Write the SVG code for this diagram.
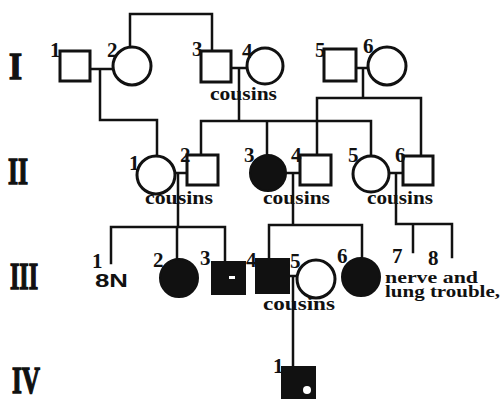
<svg xmlns="http://www.w3.org/2000/svg" width="502" height="399" viewBox="0 0 502 399">
<style>
.ln{fill:none;stroke:#111;stroke-width:2.5;stroke-linecap:square;stroke-linejoin:miter}
.op{fill:#fff;stroke:#111;stroke-width:3}
.af{fill:#111;stroke:#111;stroke-width:2}
.num{font-family:"Liberation Serif",serif;font-weight:bold;font-size:21px;fill:#111}
.rom{font-family:"Liberation Serif",serif;font-weight:bold;font-size:38px;fill:#111;stroke:#111;stroke-width:1.5}
.note{font-family:"Liberation Serif",serif;font-weight:bold;font-size:18px;fill:#111}
.note2{font-family:"Liberation Serif",serif;font-weight:bold;font-size:16px;fill:#111}
.sans{font-family:"Liberation Sans",sans-serif;font-weight:bold;font-size:18px;fill:#111}
</style>
<rect width="502" height="399" fill="#fff"/>
<g id="generation-labels">
<text class="rom" x="9" y="79" textLength="13" lengthAdjust="spacingAndGlyphs">I</text>
<text class="rom" x="8" y="184" textLength="20" lengthAdjust="spacingAndGlyphs">II</text>
<text class="rom" x="10" y="289" textLength="28" lengthAdjust="spacingAndGlyphs">III</text>
<text class="rom" x="12" y="393" textLength="28" lengthAdjust="spacingAndGlyphs">IV</text>
</g>
<g id="connectors">
<path class="ln" d="M90,69H113 M100,69V120H157V156"/>
<path class="ln" d="M130,47V14H212V51"/>
<path class="ln" d="M231,68H247 M239,68V121 M201,121H371 M201,121V155 M267,121V155 M371,121V156"/>
<path class="ln" d="M356,68H368 M363,68V98 M317,98H421 M317,98V155 M421,98V156"/>
<path class="ln" d="M174,173H187 M178,173V227 M111,227H225 M111,227V263 M177,227V259 M225,227V262"/>
<path class="ln" d="M286,173H300 M293,173V225 M269,225H362 M269,225V259 M362,225V258"/>
<path class="ln" d="M389,173H403 M396,173V224H452 M413,224V252 M452,224V257"/>
<path class="ln" d="M289,276H297 M293,276V367"/>
</g>
<g id="I-1"><rect class="op" x="60" y="51" width="30" height="30"/><text class="num" x="50" y="57">1</text></g>
<g id="I-2"><circle class="op" cx="132" cy="66" r="19"/><text class="num" x="107" y="57">2</text></g>
<g id="I-3"><rect class="op" x="201" y="51" width="30" height="31"/><text class="num" x="192" y="56">3</text></g>
<g id="I-4"><circle class="op" cx="265" cy="66" r="18"/><text class="num" x="242" y="58">4</text><text class="note" x="210" y="100" textLength="67" lengthAdjust="spacingAndGlyphs">cousins</text></g>
<g id="I-5"><rect class="op" x="324" y="49" width="32" height="32"/><text class="num" x="315" y="57">5</text></g>
<g id="I-6"><circle class="op" cx="387" cy="66" r="19"/><text class="num" x="363" y="53">6</text></g>
<g id="II-1"><circle class="op" cx="156" cy="175" r="19"/><text class="num" x="129" y="170">1</text></g>
<g id="II-2"><rect class="op" x="187" y="155" width="31" height="30"/><text class="num" x="180" y="162">2</text><text class="note" x="145" y="204" textLength="68" lengthAdjust="spacingAndGlyphs">cousins</text></g>
<g id="II-3"><circle class="af" cx="268" cy="173" r="18"/><text class="num" x="244" y="162">3</text></g>
<g id="II-4"><rect class="op" x="300" y="155" width="31" height="30"/><text class="num" x="291" y="162">4</text><text class="note" x="263" y="204" textLength="67" lengthAdjust="spacingAndGlyphs">cousins</text></g>
<g id="II-5"><circle class="op" cx="371" cy="174" r="18"/><text class="num" x="348" y="162">5</text></g>
<g id="II-6"><rect class="op" x="403" y="156" width="30" height="29"/><text class="num" x="395" y="162">6</text><text class="note" x="367" y="204" textLength="66" lengthAdjust="spacingAndGlyphs">cousins</text></g>
<g id="III-1"><text class="num" x="92" y="268">1</text><text class="sans" x="95" y="287" textLength="33" lengthAdjust="spacingAndGlyphs">8N</text></g>
<g id="III-2"><circle class="af" cx="179" cy="278" r="19"/><text class="num" x="153" y="267">2</text></g>
<g id="III-3"><rect class="af" x="212" y="262" width="33" height="32"/><rect x="229" y="276" width="6" height="3" fill="#fff"/><text class="num" x="200" y="265">3</text></g>
<g id="III-4"><rect class="af" x="256" y="259" width="33" height="34"/><text class="num" x="246" y="267">4</text></g>
<g id="III-5"><circle class="op" cx="316" cy="279" r="19"/><text class="num" x="290" y="268">5</text><text class="note" x="263" y="310" textLength="72" lengthAdjust="spacingAndGlyphs">cousins</text></g>
<g id="III-6"><circle class="af" cx="361" cy="277" r="19"/><text class="num" x="337" y="263">6</text></g>
<g id="III-7"><text class="num" x="392" y="263">7</text></g>
<g id="III-8"><text class="num" x="428" y="265">8</text><text class="note2" x="385" y="283" textLength="93" lengthAdjust="spacingAndGlyphs">nerve and</text><text class="note2" x="385" y="297" textLength="115" lengthAdjust="spacingAndGlyphs">lung trouble,</text></g>
<g id="IV-1"><rect class="af" x="282" y="367" width="33" height="36"/><circle cx="307" cy="390" r="4" fill="#fff"/><text class="num" x="273" y="373">1</text></g>
</svg>
